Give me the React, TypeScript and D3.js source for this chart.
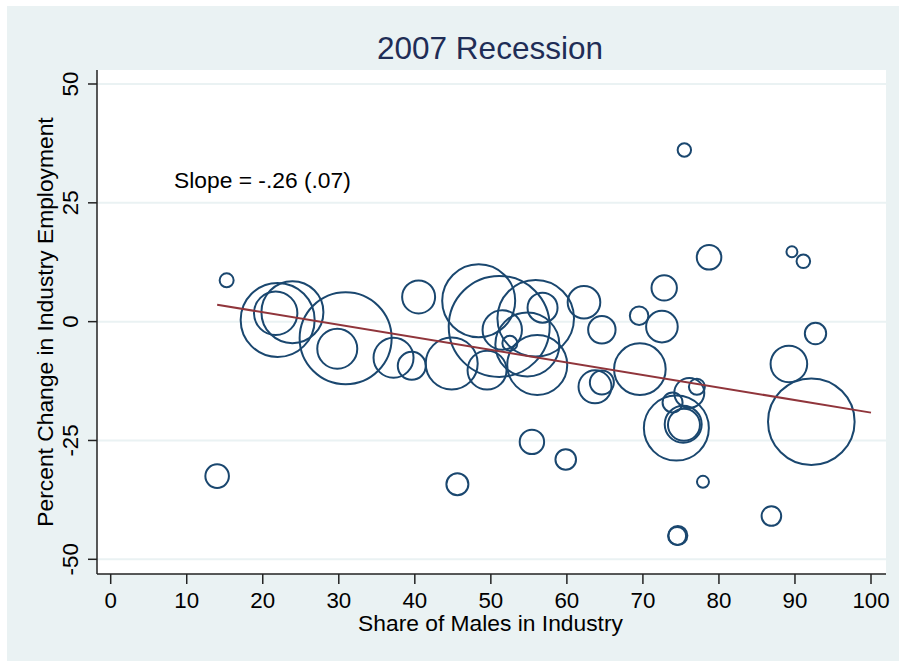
import React from "react";
import * as d3 from "d3";

const shareMale = [15.25, 21.96, 21.7, 23.9, 30.9, 29.8, 37.2, 39.6, 40.5, 44.85, 49.5, 48.4, 51.1, 55.9, 56.8, 51.5, 54.8, 52.5, 56.1, 62.25, 64.6, 63.7, 64.6, 69.5, 72.8, 72.5, 69.6, 77.1, 76.1, 73.9, 74.4, 75.3, 75.4, 89.6, 91.1, 92.7, 89.2, 92.15, 75.45, 78.7, 14.0, 45.6, 55.4, 59.85, 77.9, 86.9, 74.6, 74.5];
const pctChange = [8.7, 0.36, 1.77, 2.0, -3.5, -5.7, -7.6, -9.3, 5.2, -8.8, -10.2, 4.4, -1.0, 0.7, 2.95, -1.75, -4.8, -4.55, -9.1, 4.08, -1.7, -13.7, -12.8, 1.26, 7.1, -1.05, -10.0, -13.7, -15.0, -17.0, -22.4, -21.6, -21.7, 14.7, 12.7, -2.5, -8.9, -21.05, 36.1, 13.55, -32.5, -34.2, -25.3, -29.0, -33.7, -40.9, -45.0, -45.1];
const employment = [4.9, 136.9, 47.1, 96.1, 211.6, 40, 40, 19.6, 27.2, 67.6, 38, 133.2, 255, 146.7, 22.5, 38.8, 102.4, 5.6, 90, 26.6, 18.8, 27.2, 14.4, 8.6, 16.1, 25, 66.6, 6.4, 22.5, 10, 105.6, 34.2, 25.6, 3, 4.6, 11.4, 33.5, 187.5, 4.5, 15.1, 13.9, 12.1, 14.9, 10.6, 3.6, 9.6, 9, 8.1];

const xTicks = [0, 10, 20, 30, 40, 50, 60, 70, 80, 90, 100];
const yTicks = [-50, -25, 0, 25, 50];
const fitIntercept = 7.26;
const fitSlope = -0.264;
const fitRange = [14, 100];
const titleText = "2007 Recession";
const xTitle = "Share of Males in Industry";
const yTitle = "Percent Change in Industry Employment";
const slopeLabel = "Slope = -.26 (.07)";

const W = 899;
const H = 661;
const FONT = "'Liberation Sans', Arial, Helvetica, sans-serif";

export default function App() {
  const plot = { left: 97, right: 886, top: 70, bottom: 574 };
  const x = d3.scaleLinear().domain([0, 100]).range([110.7, 871]);
  const y = d3.scaleLinear().domain([-50, 50]).range([559.3, 84]);
  const r = d3.scaleSqrt().domain([0, 1000]).range([0, 100]);
  const fitLine = d3
    .line<number>()
    .x((d) => x(d))
    .y((d) => y(fitIntercept + fitSlope * d));

  const cx = (plot.left + plot.right) / 2;
  const cy = (plot.top + plot.bottom) / 2;

  return (
    <svg
      width={W}
      height={H}
      style={{ position: "absolute", left: 0, top: 0, display: "block" }}
      fontFamily={FONT}
    >
      <rect x={0} y={0} width={W} height={H} fill="#ffffff" />
      <rect x={7} y={6} width={W - 7} height={H - 6} fill="#eaf2f3" />
      <rect x={plot.left} y={plot.top} width={plot.right - plot.left} height={plot.bottom - plot.top} fill="#ffffff" />

      {yTicks.map((t) => (
        <line key={"g" + t} x1={plot.left} x2={plot.right} y1={y(t)} y2={y(t)} stroke="#eaf2f3" strokeWidth={2} />
      ))}

      {shareMale.map((sx, i) => (
        <circle
          key={i}
          cx={x(sx)}
          cy={y(pctChange[i])}
          r={r(employment[i])}
          fill="none"
          stroke="#1a476f"
          strokeWidth={2}
        />
      ))}

      <path d={fitLine(fitRange) || ""} fill="none" stroke="#90353b" strokeWidth={2} />

      <line x1={plot.left} x2={plot.left} y1={plot.top} y2={plot.bottom} stroke="#222" strokeWidth={1.5} />
      <line x1={plot.left} x2={plot.right} y1={plot.bottom} y2={plot.bottom} stroke="#222" strokeWidth={1.5} />

      {yTicks.map((t) => (
        <g key={"yt" + t}>
          <line x1={88} x2={plot.left} y1={y(t)} y2={y(t)} stroke="#222" strokeWidth={1.5} />
          <text
            transform={`translate(78.3,${y(t)}) rotate(-90)`}
            textAnchor="middle"
            fontSize={22.3}
            fill="#000"
          >
            {t}
          </text>
        </g>
      ))}

      {xTicks.map((t) => (
        <g key={"xt" + t}>
          <line x1={x(t)} x2={x(t)} y1={plot.bottom} y2={584} stroke="#222" strokeWidth={1.5} />
          <text x={x(t)} y={608.3} textAnchor="middle" fontSize={22.3} fill="#000">
            {t}
          </text>
        </g>
      ))}

      <text x={490.5} y={630.5} textAnchor="middle" fontSize={22.8} fill="#000">
        {xTitle}
      </text>
      <text transform={`translate(53.3,${cy}) rotate(-90)`} textAnchor="middle" fontSize={22.8} fill="#000">
        {yTitle}
      </text>
      <text x={490} y={59.3} textAnchor="middle" fontSize={31.5} fill="#1f2d56">
        {titleText}
      </text>
      <text x={174} y={188.3} fontSize={22.8} fill="#000">
        {slopeLabel}
      </text>
    </svg>
  );
}
